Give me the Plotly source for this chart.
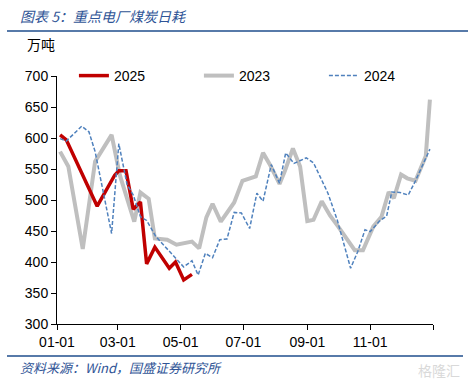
import plotly.graph_objects as go

# ---- data ----
dates_2025 = ["01-04", "01-10", "02-09", "02-26", "03-02", "03-09", "03-16", "03-23",
              "03-29", "04-06", "04-20", "04-26", "05-04", "05-12"]
values_2025 = [605, 597, 490, 540, 547, 547, 485, 497, 397, 424, 390, 400, 371, 380]

dates_2023 = ["01-04", "01-12", "01-26", "02-07", "02-23", "03-03", "03-17", "03-23",
              "03-31", "04-06", "04-18", "04-27", "05-12", "05-19", "05-26", "06-01",
              "06-09", "06-22", "06-30", "07-13", "07-20", "07-27", "08-05", "08-10",
              "08-18", "08-25", "09-01", "09-07", "09-15", "09-23", "10-01", "10-17",
              "10-25", "11-04", "11-12", "11-19", "11-24", "12-01", "12-07", "12-15",
              "12-25", "12-29"]
values_2023 = [578, 554, 421, 562, 605, 540, 465, 512, 502, 438, 436, 428, 433, 422,
               472, 494, 465, 496, 531, 538, 576, 556, 526, 546, 583, 554, 466, 468,
               498, 475, 457, 419, 419, 457, 473, 513, 503, 541, 535, 531, 571, 662]

dates_2024 = ["01-04", "01-10", "01-25", "02-01", "02-07", "02-23", "03-02", "03-10",
              "03-16", "03-23", "03-29", "04-07", "05-04", "05-12", "05-18", "05-25",
              "06-01", "06-08", "06-15", "06-22", "06-29", "07-07", "07-14", "07-20",
              "07-28", "08-05", "08-11", "08-19", "08-31", "09-07", "09-21", "09-30",
              "10-13", "10-20", "10-27", "11-01", "11-10", "11-17", "11-22", "11-30",
              "12-08", "12-15", "12-29"]
values_2024 = [599, 595, 619, 610, 578, 446, 591, 525, 508, 473, 467, 441, 392, 402,
               379, 414, 407, 436, 437, 480, 479, 454, 511, 498, 557, 527, 576, 559,
               568, 560, 511, 468, 390, 417, 452, 449, 466, 474, 513, 512, 508, 531, 582]

tick_labels = ["01-01", "03-01", "05-01", "07-01", "09-01", "11-01", ""]
tick_dates = ["2025-01-01", "2025-03-01", "2025-05-01", "2025-07-01", "2025-09-01",
              "2025-11-01", "2026-01-01"]

BASE_YEAR = "2025-"


def to_x(md_list):
    return [BASE_YEAR + md for md in md_list]


FONT = "Liberation Sans, Arial, sans-serif"
CJK = "Noto Sans CJK SC, sans-serif"
BLUE_TXT = "#2F5496"

fig = go.Figure()
fig.add_trace(go.Scatter(x=to_x(dates_2023), y=values_2023, name="2023", mode="lines",
                         line=dict(color="#BFBFBF", width=4), legendrank=2))
fig.add_trace(go.Scatter(x=to_x(dates_2025), y=values_2025, name="2025", mode="lines",
                         line=dict(color="#C00000", width=3.5), legendrank=1))
fig.add_trace(go.Scatter(x=to_x(dates_2024), y=values_2024, name="2024", mode="lines",
                         line=dict(color="#4F81BD", width=1.5, dash="4px,2px"), legendrank=3))

fig.update_layout(
    width=468, height=380,
    margin=dict(l=57, r=35, t=76, b=56),
    paper_bgcolor="white", plot_bgcolor="white",
    font=dict(family=FONT, size=14, color="black"),
    showlegend=True,
    legend=dict(orientation="h", x=0.045, xanchor="left", y=1.0, yanchor="middle",
                bgcolor="rgba(0,0,0,0)", font=dict(size=14, family=FONT),
                entrywidth=80, entrywidthmode="pixels", traceorder="normal",
                itemwidth=30, tracegroupgap=0),
    xaxis=dict(type="date", range=["2025-01-01", "2026-01-01"],
               tickvals=tick_dates, ticktext=tick_labels,
               showline=True, linecolor="black", linewidth=1,
               ticks="outside", ticklen=5, tickcolor="black",
               showgrid=False, zeroline=False, tickfont=dict(size=14, family=FONT)),
    yaxis=dict(range=[300, 700], dtick=50, tick0=300,
               showline=True, linecolor="black", linewidth=1,
               ticks="outside", ticklen=5, tickcolor="black",
               showgrid=False, zeroline=False, tickfont=dict(size=14, family=FONT)),
)

# title, unit, source
fig.add_annotation(text="<i>图表 5：重点电厂煤炭日耗</i>", xref="paper", yref="paper",
                   x=(18-57)/376, y=1 + (76-16)/248, xanchor="left", yanchor="middle",
                   showarrow=False, font=dict(family=CJK, size=14, color=BLUE_TXT))
fig.add_annotation(text="万吨", xref="paper", yref="paper",
                   x=(25-57)/376, y=1 + (76-44)/248, xanchor="left", yanchor="middle",
                   showarrow=False, font=dict(family=CJK, size=14, color="black"))
fig.add_annotation(text="<i>资料来源：Wind，国盛证券研究所</i>", xref="paper", yref="paper",
                   x=(18-57)/376, y=-(367-324)/248, xanchor="left", yanchor="middle",
                   showarrow=False, font=dict(family=CJK, size=13, color=BLUE_TXT))
fig.add_annotation(text="格隆汇", xref="paper", yref="paper",
                   x=(462-57)/376, y=-(370-324)/248, xanchor="right", yanchor="middle",
                   showarrow=False, font=dict(family=CJK, size=14, color="#D9D9D9"))

# separator lines
fig.add_shape(type="line", xref="paper", yref="paper",
              x0=(7-57)/376, x1=(468-57)/376, y0=1 + (76-31)/248, y1=1 + (76-31)/248,
              line=dict(color="#1F4E8C", width=1.5))
fig.add_shape(type="line", xref="paper", yref="paper",
              x0=(7-57)/376, x1=(463-57)/376, y0=-(356-324)/248, y1=-(356-324)/248,
              line=dict(color="#1F4E8C", width=1.5))

fig.write_html("out.html", config={"displayModeBar": False},
               post_script="document.body.style.margin='0';document.body.style.overflow='hidden';")
